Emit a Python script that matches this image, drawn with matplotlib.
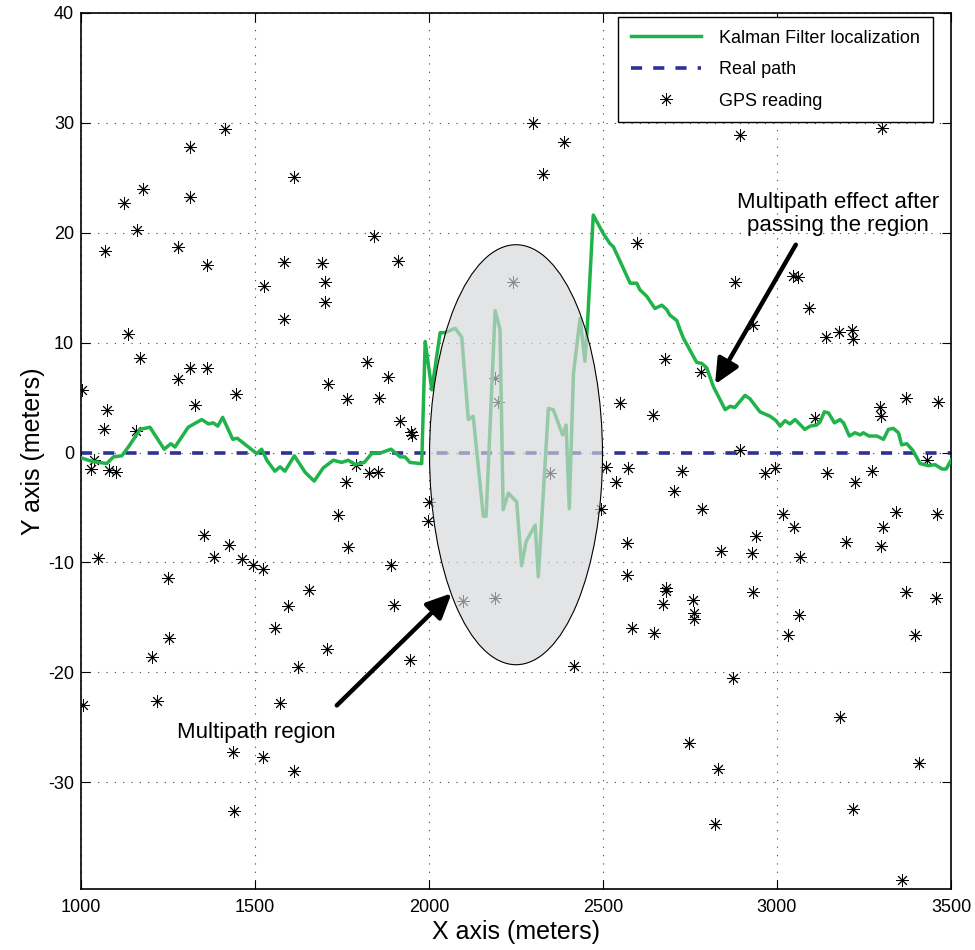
import matplotlib
matplotlib.use("Agg")
import matplotlib.pyplot as plt
from matplotlib.patches import Ellipse

plt.rcParams['font.family'] = ['Liberation Sans', 'DejaVu Sans']
plt.rcParams['lines.scale_dashes'] = False
plt.rcParams['axes.unicode_minus'] = False

# ---- data ----
kf_x = [1002, 1031, 1074, 1093, 1117, 1136, 1170, 1198, 1239, 1258, 1270, 1308, 1347, 1366,
        1380, 1393, 1407, 1436, 1449, 1505, 1519, 1534, 1557, 1572, 1586, 1613, 1644, 1670,
        1696, 1725, 1749, 1768, 1787, 1814, 1835, 1864, 1891, 1917, 1931, 1945, 1974, 1979,
        1989, 2008, 2032, 2046, 2075, 2094, 2113, 2127, 2156, 2164, 2190, 2204, 2213, 2228,
        2252, 2266, 2279, 2305, 2314, 2343, 2357, 2384, 2394, 2403, 2415, 2434, 2448, 2455,
        2472, 2501, 2520, 2530, 2578, 2597, 2606, 2626, 2649, 2669, 2683, 2692, 2712, 2721,
        2731, 2769, 2784, 2798, 2817, 2851, 2865, 2879, 2908, 2922, 2951, 2980, 2997, 3009,
        3023, 3037, 3052, 3080, 3095, 3114, 3124, 3136, 3148, 3165, 3181, 3191, 3208, 3224,
        3239, 3248, 3264, 3287, 3306, 3320, 3334, 3349, 3358, 3373, 3390, 3411, 3435, 3454,
        3474, 3486, 3500]
kf_y = [-0.5, -0.8, -1.0, -0.4, -0.3, 0.5, 2.1, 2.3, 0.3, 0.8, 0.5, 2.3, 3.0, 2.6,
        2.7, 2.4, 3.2, 1.2, 1.3, -0.1, 0.3, -0.7, -1.7, -1.3, -1.7, -0.3, -1.8, -2.6,
        -1.4, -0.7, -0.9, -0.7, -1.1, -0.9, -0.1, 0.0, 0.3, -0.4, -0.4, -0.9, -1.0, -1.0,
        10.1, 5.7, 10.9, 10.9, 11.3, 10.5, 3.0, 3.3, -5.8, -5.8, 12.9, 11.2, -5.2, -3.7,
        -4.5, -10.3, -8.1, -6.6, -11.3, 4.0, 3.9, 1.6, 2.5, -5.1, 7.2, 12.2, 8.3, 11.5,
        21.6, 19.9, 19.0, 18.7, 15.4, 15.4, 14.8, 14.2, 13.1, 13.4, 13.0, 12.5, 12.0, 11.2,
        10.4, 8.2, 8.1, 7.7, 6.0, 3.9, 4.2, 4.1, 5.2, 4.9, 3.7, 3.3, 2.9, 2.4,
        2.9, 2.6, 3.0, 2.1, 2.4, 2.5, 2.8, 3.7, 3.6, 2.7, 3.0, 2.7, 1.5, 1.8,
        1.6, 1.8, 1.5, 1.5, 1.2, 2.1, 2.2, 1.8, 0.7, 0.8, 0.2, -1.0, -1.2, -1.1,
        -1.5, -1.5, -0.7]

real_x = [1000, 3500]
real_y = [0, 0]

gps_x = [1413, 1312, 1178, 1124, 1312, 1161, 1069, 1278, 1362, 1612, 1843, 1584, 1693, 1701,
         1910, 1527, 1701, 2299, 2387, 2328, 2240, 2599, 2894, 3301, 2879, 3047, 3061,
         1002, 1134, 1170, 1076, 1065, 1158, 1038, 1029, 1080, 1100, 1280, 1314, 1363, 1328,
         1445, 1582, 1711, 1763, 1822, 1856, 1883, 1917, 1789, 1762, 1828, 1854, 1739, 1766,
         1891, 1048, 1353, 1383, 1426, 1464, 1493, 1524, 1251,
         1596, 1556, 1706, 1623, 1656, 1900, 1254, 1203, 1007, 1219, 1571, 1438, 1522, 1612, 1440,
         2191, 2197, 2348, 1949, 1951, 2001, 1997, 2510, 2495, 2572, 2536, 2704, 2549, 2645,
         2678, 2568, 2568, 2681,
         2932, 3093, 3141, 3177, 3215, 3218, 2782, 3371, 3464, 3296, 3299, 3109, 2894, 2726,
         2966, 2994, 3144, 3224, 3274, 3430, 2784, 3016, 3050, 3342, 3459, 3305, 3198, 3298,
         2939, 2838, 2929, 3066,
         1944, 2099, 2190, 2417, 2680, 2673, 2582, 2647,
         2760, 2762, 2762, 2930, 2874, 2746, 2831, 2822, 3063, 3032, 3182, 3219, 3371, 3456,
         3397, 3409, 3360]
gps_y = [29.4, 27.8, 24.0, 22.7, 23.2, 20.2, 18.3, 18.7, 17.1, 25.1, 19.7, 17.3, 17.2, 15.5,
         17.4, 15.1, 13.7, 30.0, 28.2, 25.3, 15.5, 19.1, 28.9, 29.5, 15.5, 16.1, 16.0,
         5.7, 10.8, 8.6, 3.9, 2.1, 2.0, -0.7, -1.5, -1.6, -1.8, 6.7, 7.7, 7.7, 4.3,
         5.3, 12.1, 6.2, 4.9, 8.2, 5.0, 6.9, 2.9, -1.1, -2.7, -1.9, -1.8, -5.7, -8.6,
         -10.2, -9.6, -7.5, -9.5, -8.4, -9.7, -10.2, -10.6, -11.4,
         -14.0, -16.0, -17.9, -19.5, -12.5, -13.9, -16.9, -18.6, -23.0, -22.6, -22.8, -27.2, -27.7, -29.0, -32.6,
         6.8, 4.6, -1.9, 1.9, 1.6, -4.5, -6.2, -1.3, -5.1, -1.4, -2.7, -3.5, 4.5, 3.4,
         8.5, -8.2, -11.1, -12.3,
         11.6, 13.1, 10.5, 11.0, 11.1, 10.3, 7.3, 5.0, 4.6, 4.1, 3.3, 3.1, 0.2, -1.7,
         -1.9, -1.4, -1.9, -2.7, -1.7, -0.7, -5.1, -5.6, -6.8, -5.4, -5.6, -6.8, -8.1, -8.5,
         -7.6, -9.0, -9.1, -9.5,
         -18.9, -13.5, -13.2, -19.4, -12.6, -13.8, -16.0, -16.4,
         -13.4, -14.6, -15.1, -12.7, -20.5, -26.4, -28.8, -33.8, -14.8, -16.6, -24.1, -32.4, -12.7, -13.2,
         -16.6, -28.2, -38.9]

x_ticks = [1000, 1500, 2000, 2500, 3000, 3500]
y_ticks = [-30, -20, -10, 0, 10, 20, 30, 40]

GREEN = '#1fb34a'
BLUE = '#2e3192'

fig = plt.figure(figsize=(9.75, 9.5), dpi=100)
ax = fig.add_axes([0.0831, 0.0642, 0.8923, 0.9224])

ax.plot(kf_x, kf_y, color=GREEN, lw=2.5, solid_joinstyle='round', zorder=3,
        label='Kalman Filter localization')
ax.plot(real_x, real_y, color=BLUE, lw=2.6, linestyle=(0, (8.0, 8.0)), zorder=2,
        label='Real path')
ax.plot(gps_x, gps_y, linestyle='none', marker=(8, 2, 0), ms=9, mew=0.65,
        color='black', zorder=2.5, label='GPS reading')

ell = Ellipse((2250, -0.2), 497, 38.2, facecolor='#d4d6da', alpha=0.66,
              edgecolor='none', zorder=4)
ax.add_patch(ell)
ell2 = Ellipse((2250, -0.2), 497, 38.2, facecolor='none', edgecolor='black',
               lw=0.8, zorder=4.1)
ax.add_patch(ell2)

arrow_kw = dict(arrowstyle='-|>,head_length=0.75,head_width=0.35', lw=3.2,
                color='black', shrinkA=0, shrinkB=0, mutation_scale=20)
ax.annotate('', xy=(2065, -12.8), xytext=(1735, -23.0), arrowprops=arrow_kw, zorder=5)
ax.annotate('', xy=(2822, 6.2), xytext=(3054, 18.9), arrowprops=arrow_kw, zorder=5)

ax.text(1504, -25.5, 'Multipath region', fontsize=16, ha='center', va='center', zorder=6)
ax.text(3175, 21.7, 'Multipath effect after\npassing the region', fontsize=16,
        ha='center', va='center', linespacing=1.1, zorder=6)

ax.set_xlim(1000, 3500)
ax.set_ylim(-39.7, 40)
ax.set_xticks(x_ticks)
ax.set_yticks(y_ticks)
ax.tick_params(direction='in', length=6.5, width=0.8, top=True, right=True,
               labelsize=13, pad=7)
ax.tick_params(axis='y', pad=5)
ax.grid(True, color='#444444', linestyle=(0, (0.8, 5.2)), lw=0.8)
for s in ax.spines.values():
    s.set_linewidth(1.2)

ax.set_xlabel('X axis (meters)', fontsize=18, labelpad=3)
ax.set_ylabel('Y axis (meters)', fontsize=18, labelpad=2)

leg = ax.legend(loc='upper right', bbox_to_anchor=(0.979, 0.995), borderaxespad=0,
                fontsize=13, handlelength=3.9, handletextpad=1.0, labelspacing=0.8,
                borderpad=0.7, fancybox=False, framealpha=1, edgecolor='black')
leg.get_frame().set_linewidth(1.0)
leg.set_zorder(10)

fig.savefig('out.png', dpi=100)
